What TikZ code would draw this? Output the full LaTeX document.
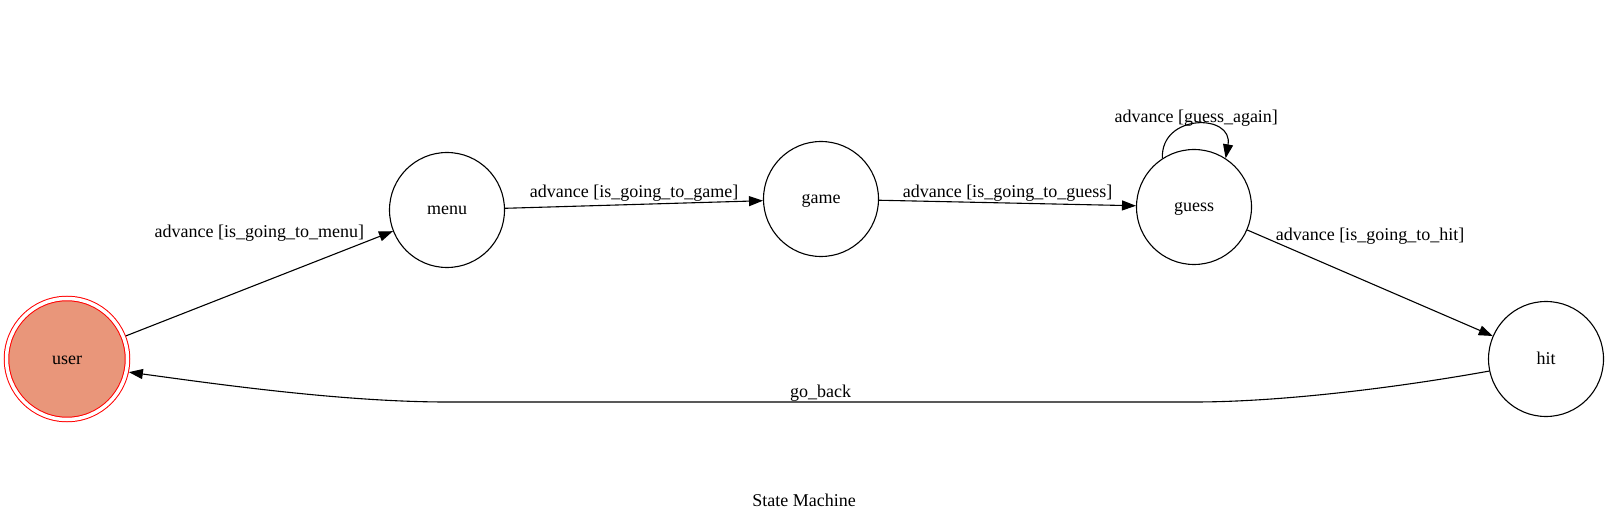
\documentclass[tikz,border=0pt]{standalone}
\usepackage{fontspec}
\setmainfont{Liberation Serif}
\usetikzlibrary{arrows.meta}
\definecolor{salmon}{HTML}{E9967A}
\tikzset{
  statenode/.style={circle, draw, line width=1.1pt, minimum size=115pt, inner sep=0pt,
    text height=13pt, text depth=3pt},
  usernode/.style={circle, draw=red, fill=salmon, line width=1pt, double=white,
    double distance=3.5pt, minimum size=121pt, inner sep=0pt, outer sep=2.75pt,
    text height=13pt, text depth=3pt},
  trans/.style={->, line width=1.1pt},
}
\begin{document}
\begin{tikzpicture}[x=1pt, y=-1pt, font=\fontsize{18}{20}\selectfont,
    >={Triangle[length=14pt,width=10pt]}]
  \useasboundingbox (0,0) rectangle (1609,521);
  % States
  \node[usernode] (user) at (67,359) {user};
  \node[statenode] (menu) at (447,210) {menu};
  \node[statenode] (game) at (821,199) {game};
  \node[statenode] (guess) at (1194,207) {guess};
  \node[statenode] (hit) at (1546,359) {hit};
  % Transitions
  \draw[trans] (user) -- node[midway, yshift=50pt] {advance [is\_going\_to\_menu]} (menu);
  \draw[trans] (menu) -- node[midway, yshift=11pt] {advance [is\_going\_to\_game]} (game);
  \draw[trans] (game) -- node[midway, yshift=10pt] {advance [is\_going\_to\_guess]} (guess);
  \draw[trans] (guess.123) .. controls +(-2,-45) and +(8,-45) .. node[midway, yshift=6pt] {advance [guess\_again]} (guess.57);
  \draw[trans] (guess) -- node[midway, yshift=47pt] {advance [is\_going\_to\_hit]} (hit);
  % Back to the start
  \draw[trans] (hit.192) .. controls (1395,388) and (1280,402) .. (1194,402)
    -- node[midway, yshift=9pt] {go\_back} (447,402)
    .. controls (340,402) and (209,383) .. (user.-12);
  % Title
  \node (title) at (804,500) {State Machine};
\end{tikzpicture}
\end{document}
